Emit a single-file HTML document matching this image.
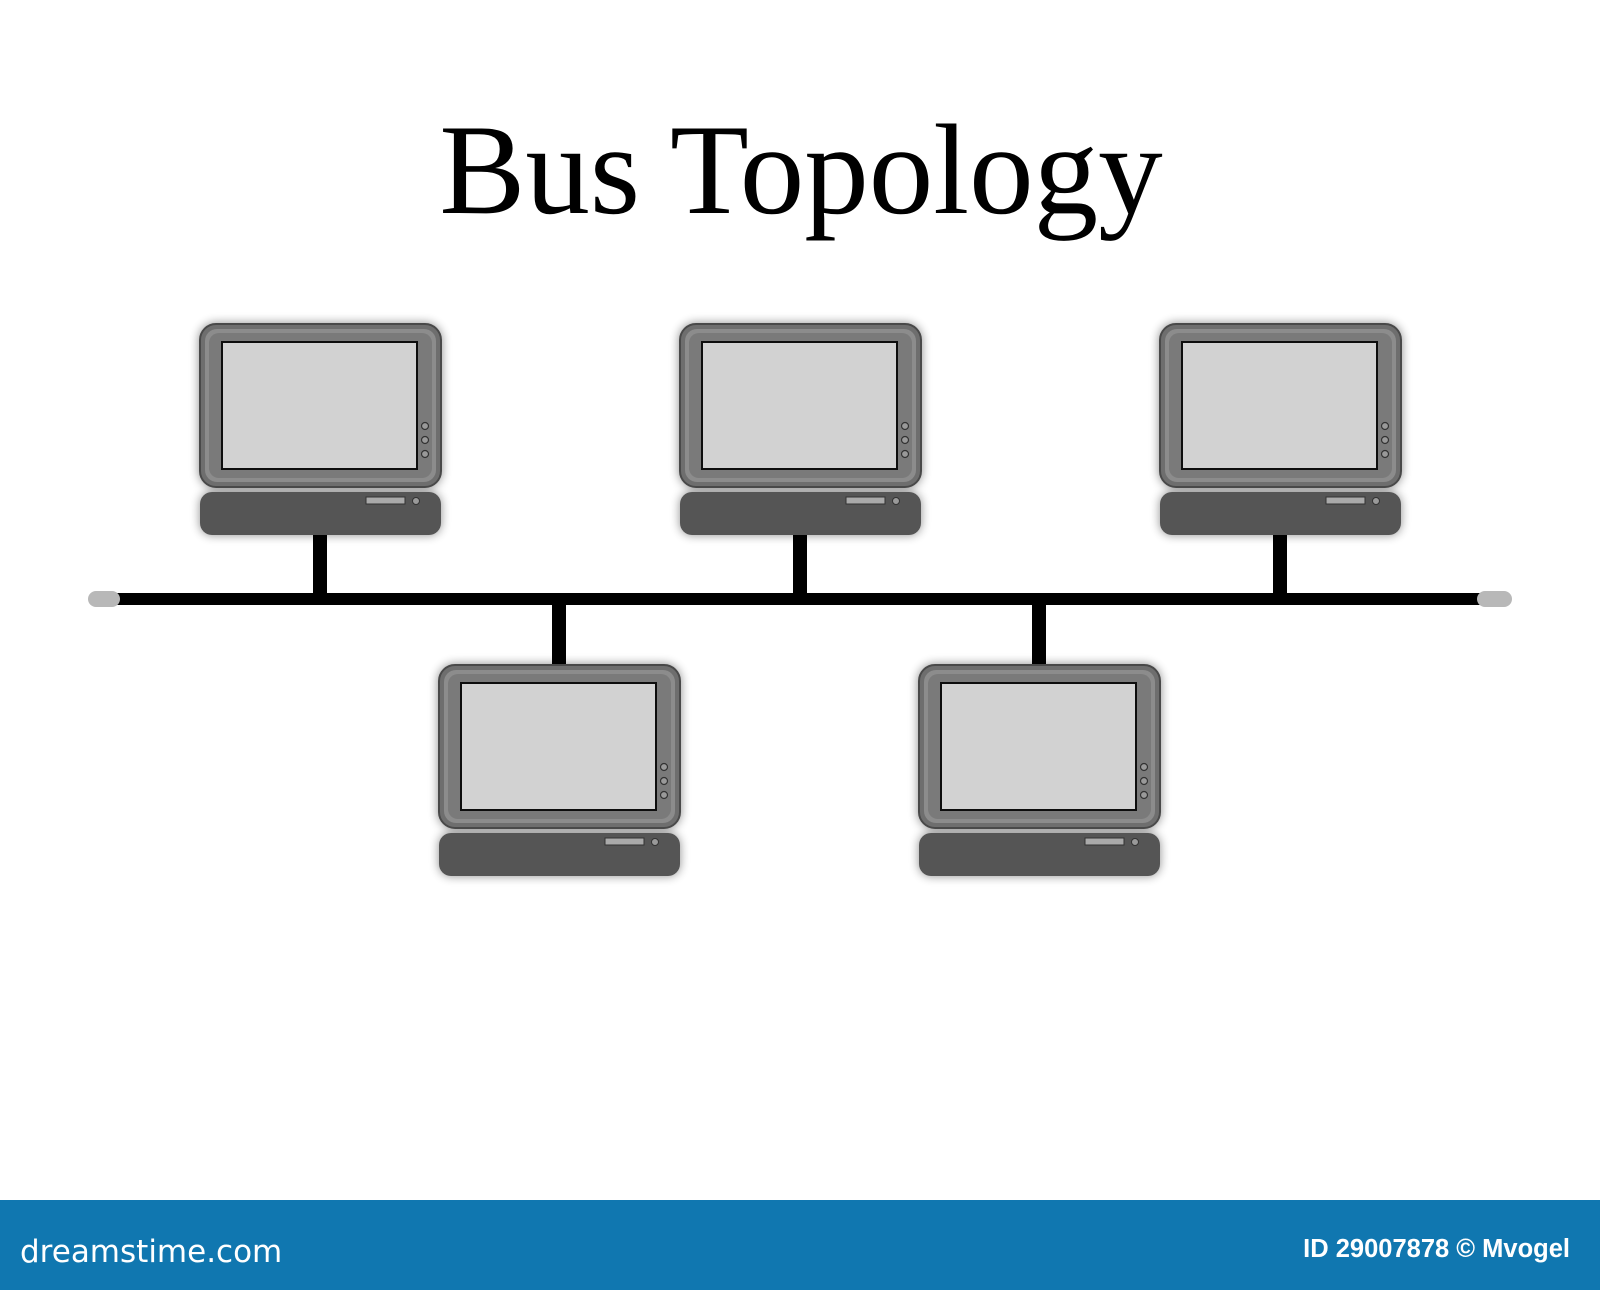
<!DOCTYPE html>
<html><head><meta charset="utf-8"><style>
html,body{margin:0;padding:0;background:#fff;width:1600px;height:1290px;overflow:hidden}
</style></head><body>
<svg width="1600" height="1290" viewBox="0 0 1600 1290" xmlns="http://www.w3.org/2000/svg">
<defs>
<filter id="sh" x="-20%" y="-20%" width="140%" height="140%">
<feGaussianBlur in="SourceAlpha" stdDeviation="5"/>
<feComponentTransfer><feFuncA type="linear" slope="0.45"/></feComponentTransfer>
<feMerge><feMergeNode/><feMergeNode in="SourceGraphic"/></feMerge>
</filter>
<g id="pc">
<g filter="url(#sh)">
<rect x="0" y="0" width="241" height="163" rx="16" fill="#6e6e6e" stroke="#4a4a4a" stroke-width="2"/>
<rect x="5" y="5" width="231" height="153" rx="12" fill="#8c8c8c"/>
<rect x="9" y="9" width="223" height="145" rx="10" fill="#7a7a7a"/>
<rect x="22" y="18" width="195" height="127" fill="#d2d2d2" stroke="#111" stroke-width="2"/>
<circle cx="225" cy="102" r="3.5" fill="#999" stroke="#333" stroke-width="1.2"/>
<circle cx="225" cy="116" r="3.5" fill="#999" stroke="#333" stroke-width="1.2"/>
<circle cx="225" cy="130" r="3.5" fill="#999" stroke="#333" stroke-width="1.2"/>
<rect x="0" y="168" width="241" height="43" rx="12" fill="#555"/>
<rect x="166" y="173" width="39" height="7" fill="#aaa" stroke="#333" stroke-width="1"/>
<circle cx="216" cy="177" r="3.5" fill="#999" stroke="#333" stroke-width="1"/>
</g>
</g>
</defs>
<text x="801" y="213" text-anchor="middle" font-family="Liberation Serif, serif" font-size="129" fill="#000">Bus Topology</text>
<rect x="313" y="533" width="14" height="66" fill="#000"/>
<rect x="793" y="533" width="14" height="66" fill="#000"/>
<rect x="1273" y="533" width="14" height="66" fill="#000"/>
<rect x="552" y="599" width="14" height="68" fill="#000"/>
<rect x="1032" y="599" width="14" height="68" fill="#000"/>
<rect x="117" y="593" width="1363" height="12" fill="#000"/>
<rect x="88" y="591" width="32" height="16" rx="8" fill="#b8b8b8"/>
<rect x="1477" y="591" width="35" height="16" rx="8" fill="#b8b8b8"/>
<use href="#pc" x="200" y="324"/>
<use href="#pc" x="680" y="324"/>
<use href="#pc" x="1160" y="324"/>
<use href="#pc" x="439" y="665"/>
<use href="#pc" x="919" y="665"/>
<rect x="0" y="1200" width="1600" height="90" fill="#1077b0"/>
<text x="20" y="1262" font-family="DejaVu Sans, sans-serif" font-size="31" fill="#fff">dreamstime.com</text>
<text x="1570" y="1257" text-anchor="end" font-family="Liberation Sans, sans-serif" font-weight="bold" font-size="25.5" fill="#fff">ID 29007878 © Mvogel</text>
</svg>
</body></html>
